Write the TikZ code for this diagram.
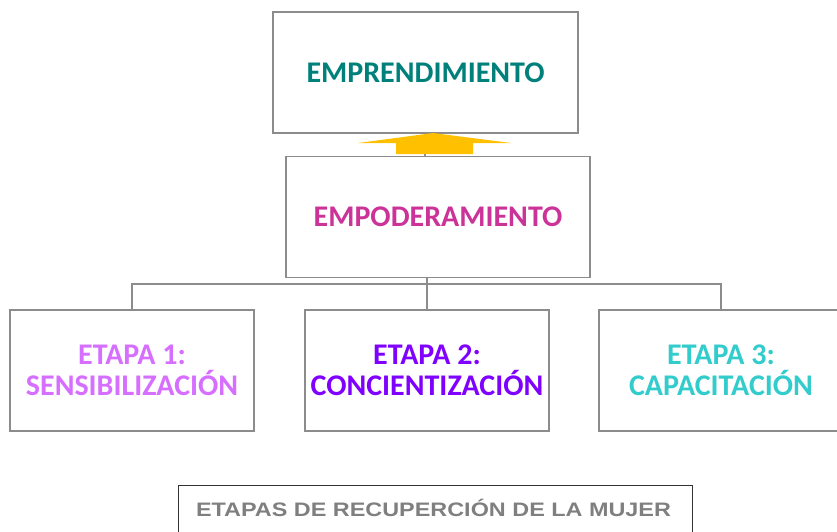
\documentclass[tikz,border=0pt]{standalone}
\usepackage{fontspec}
\setmainfont{Carlito}
\newfontfamily\capfont{Liberation Sans}
\definecolor{boxgray}{HTML}{8C8C8C}
\definecolor{tealc}{HTML}{00807A}
\definecolor{magc}{HTML}{CC3399}
\definecolor{lilac}{HTML}{D66EFF}
\definecolor{violetc}{HTML}{7F00FF}
\definecolor{turq}{HTML}{33CCCC}
\definecolor{arrowy}{HTML}{FFC000}
\definecolor{capgray}{HTML}{7F7F7F}
\tikzset{
  gbox/.style={draw=boxgray, line width=1.6pt, fill=white, minimum width=304pt, minimum height=121pt, inner sep=0pt, font=\fontsize{30}{31}\selectfont\bfseries, align=center},
  sbox/.style={gbox, minimum width=244pt, minimum height=121pt},
  conn/.style={draw=boxgray, line width=1.6pt},
}
\begin{document}
\begin{tikzpicture}[x=1pt,y=-1pt]
\useasboundingbox (0,0) rectangle (837,532);
\clip (0,0) rectangle (837,532);
\node[gbox, text=tealc, minimum width=305pt] (top) at (425.5,72.5) {EMPRENDIMIENTO};
\node[gbox, text=magc] (pod) at (438,217) {EMPODERAMIENTO};
\node[sbox, text=lilac] (e1) at (132,370.5) {ETAPA 1:\\SENSIBILIZACIÓN};
\node[sbox, text=violetc] (e2) at (427,370.5) {ETAPA 2:\\CONCIENTIZACIÓN};
\node[sbox, text=turq] (e3) at (721,370.5) {ETAPA 3:\\CAPACITACIÓN};
\coordinate (a1) at (425,133);
\draw[conn] (a1) -- (a1 |- pod.north);
\fill[arrowy] (396,154) -- (396,143) -- (358,143) -- (433,133) -- (511,143) -- (473,143) -- (473,154) -- cycle;
\draw[conn] (e1.north) -- ++(0,-25) -| (e3.north);
\draw[conn] (e2.north) -- (e2.north |- pod.south);
\node[draw=black!80, line width=0.8pt, minimum width=514pt, minimum height=50pt, anchor=north west, inner sep=0pt] (cap) at (178,485) {};
\node[text=capgray, font=\capfont\fontsize{19.5}{22}\selectfont\bfseries, inner sep=0pt] (captext) at (433.5,507.5) {\scalebox{1.2}[1]{ETAPAS DE RECUPERCIÓN DE LA MUJER}};
\end{tikzpicture}
\end{document}
